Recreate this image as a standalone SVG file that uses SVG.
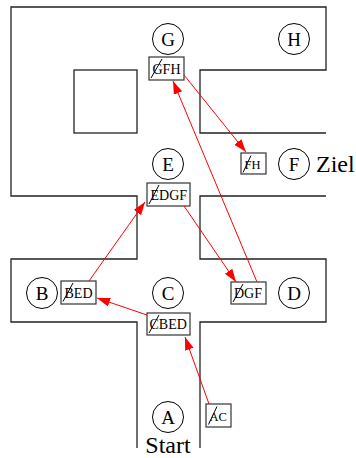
<svg xmlns="http://www.w3.org/2000/svg" width="356" height="458" viewBox="0 0 356 458">
<style>
.wall{fill:none;stroke:#222;stroke-width:1.3}
.node circle{fill:#fff;stroke:#000;stroke-width:1}
.lbl{font-family:"Liberation Serif",serif;font-size:19px;text-anchor:middle;fill:#000}
.big{font-family:"Liberation Serif",serif;font-size:24px;fill:#000}
.box rect{fill:#fff;stroke:#333;stroke-width:1.2}
.bt{font-family:"Liberation Serif",serif;font-size:14px;fill:#000}
.bs{font-size:12.5px}
.slash{stroke:#000;stroke-width:1}
.conn line{stroke:#f00;stroke-width:1;marker-end:url(#ah)}
</style>
<defs>
<marker id="ah" markerUnits="userSpaceOnUse" markerWidth="15" markerHeight="10" refX="13" refY="4.5" orient="auto">
<path d="M0,0 L13,4.5 L0,9 Z" fill="#f00"/>
</marker>
</defs>
<g id="walls">
<path class="wall" d="M326,133 H200 V70 H326 V7 H11 V196 H137 V259 H11 V322 H137 V448"/>
<path class="wall" d="M326,196 H200 V259 H326 V322 H200 V448"/>
<rect class="wall" x="74" y="70" width="63" height="63"/>
</g>
<g id="nodeG" class="node"><circle cx="168" cy="39" r="15.5"/><text class="lbl" x="168" y="45.5">G</text></g>
<g id="nodeH" class="node"><circle cx="294" cy="39" r="15.5"/><text class="lbl" x="294" y="45.5">H</text></g>
<g id="nodeE" class="node"><circle cx="168" cy="164" r="15.5"/><text class="lbl" x="168" y="170.5">E</text></g>
<g id="nodeF" class="node"><circle cx="294" cy="164" r="15.5"/><text class="lbl" x="294" y="170.5">F</text><text class="big" x="316" y="172">Ziel</text></g>
<g id="nodeB" class="node"><circle cx="42" cy="293" r="15.5"/><text class="lbl" x="42" y="299.5">B</text></g>
<g id="nodeC" class="node"><circle cx="168" cy="293" r="15.5"/><text class="lbl" x="168" y="299.5">C</text></g>
<g id="nodeD" class="node"><circle cx="294" cy="293" r="15.5"/><text class="lbl" x="294" y="299.5">D</text></g>
<g id="nodeA" class="node"><circle cx="168" cy="417" r="15.5"/><text class="lbl" x="168" y="423.5">A</text><text class="big" x="168" y="453" text-anchor="middle">Start</text></g>

<g id="boxGFH" class="box"><rect x="149" y="57" width="35" height="23"/><text class="bt" x="152.5" y="74">GFH</text><line class="slash" x1="151" y1="78" x2="162" y2="59"/></g>
<g id="boxEDGF" class="box"><rect x="147" y="183" width="43" height="23"/><text class="bt" x="150.5" y="200">EDGF</text><line class="slash" x1="149" y1="204" x2="159" y2="185"/></g>
<g id="boxFH" class="box"><rect x="241" y="153" width="25" height="21"/><text class="bt bs" x="244.5" y="169">FH</text><line class="slash" x1="243" y1="172.5" x2="251" y2="155.5"/></g>
<g id="boxBED" class="box"><rect x="61" y="281" width="35" height="23"/><text class="bt" x="64.5" y="297.5">BED</text><line class="slash" x1="63" y1="301.5" x2="73" y2="283"/></g>
<g id="boxDGF" class="box"><rect x="231" y="282" width="35" height="22"/><text class="bt" x="234" y="298">DGF</text><line class="slash" x1="233" y1="302" x2="243" y2="284"/></g>
<g id="boxCBED" class="box"><rect x="147" y="313" width="43" height="22"/><text class="bt" x="149.5" y="329">CBED</text><line class="slash" x1="149" y1="333" x2="159" y2="315"/></g>
<g id="boxAC" class="box"><rect x="206" y="404" width="25" height="23"/><text class="bt bs" x="209.5" y="420.5">AC</text><line class="slash" x1="208.5" y1="424.5" x2="217" y2="406.5"/></g>

<g id="connectors" class="conn">
<line x1="209" y1="404" x2="185" y2="337"/>
<line x1="147" y1="315" x2="97" y2="298"/>
<line x1="89" y1="281" x2="145" y2="202"/>
<line x1="184" y1="206" x2="236" y2="282"/>
<line x1="257" y1="282" x2="173" y2="81"/>
<line x1="184" y1="75" x2="246" y2="152"/>
</g>
</svg>
